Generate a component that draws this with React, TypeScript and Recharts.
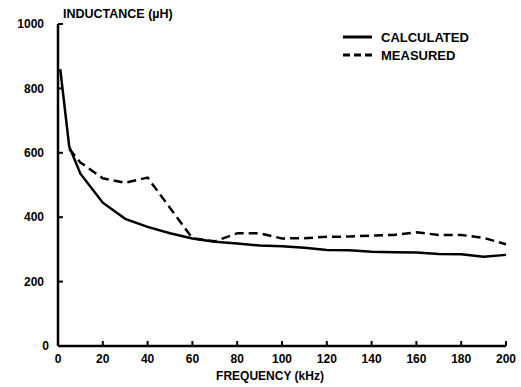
import { Line, LineChart, XAxis, YAxis } from "recharts";

const FONT = "'Liberation Sans', Arial, sans-serif";

// calculated inductance (µH) vs frequency (kHz)
const calcFreq = [1, 5, 10, 20, 30, 40, 50, 60, 70, 80, 90, 100, 110, 120, 130, 140, 150, 160, 170, 180, 190, 200];
const calcValues = [860, 620, 535, 445, 395, 370, 350, 334, 324, 318, 312, 310, 305, 298, 297, 293, 291, 290, 286, 285, 277, 283];

// measured inductance (µH) vs frequency (kHz)
const measFreq = [5, 10, 20, 30, 40, 60, 70, 80, 90, 100, 110, 120, 130, 140, 150, 160, 170, 180, 190, 200];
const measValues = [612, 570, 521, 507, 523, 335, 325, 350, 350, 334, 335, 339, 340, 343, 345, 353, 345, 345, 336, 316];

const xTicks = [0, 20, 40, 60, 80, 100, 120, 140, 160, 180, 200];
const yTicks = [0, 200, 400, 600, 800, 1000];

const calculated = calcFreq.map((f, i) => ({ freq: f, value: calcValues[i] }));
const measured = measFreq.map((f, i) => ({ freq: f, value: measValues[i] }));

const textStyle = { fontFamily: FONT, fontWeight: "bold", fontSize: 12 };

// x tick: label below the axis, short mark pointing up into the plot
function XTick({ x, y, payload }: any) {
    return (
        <g>
            <path d={`M${x},${y - 8}V${y - 13}`} stroke="#000" strokeWidth={2} />
            <text x={x} y={y} dy="0.71em" textAnchor="middle" fill="#000" style={textStyle}>
                {payload.value}
            </text>
        </g>
    );
}

// y tick: label left of the axis, short mark pointing right into the plot
function YTick({ x, y, payload }: any) {
    return (
        <g>
            <path d={`M${x + 14},${y}H${x + 19}`} stroke="#000" strokeWidth={2} />
            <text x={payload.value === 0 ? x + 5 : x} y={y} dy="0.355em" textAnchor="end" fill="#000" style={textStyle}>
                {payload.value}
            </text>
        </g>
    );
}

function LegendBox() {
    const row = (label: string, dash?: string) => (
        <div style={{ display: "flex", alignItems: "center", height: 18 }}>
            <svg width={38} height={10}>
                <line x1={0} y1={5} x2={29} y2={5} stroke="#000" strokeWidth={3} strokeDasharray={dash} />
            </svg>
            <span style={{ fontFamily: FONT, fontWeight: "bold", fontSize: 13, color: "#000" }}>{label}</span>
        </div>
    );
    return (
        <div style={{ position: "absolute", left: 343, top: 28 }}>
            {row("CALCULATED")}
            {row("MEASURED", "7 4")}
        </div>
    );
}

export default function App() {
    return (
        <div style={{ position: "absolute", left: 0, top: 0, width: 521, height: 387, background: "#fff" }}>
            <LineChart width={521} height={387} margin={{ top: 24, right: 15, bottom: 0, left: 0 }}>
                <XAxis
                    type="number"
                    dataKey="freq"
                    domain={[0, 200]}
                    ticks={xTicks}
                    height={41}
                    stroke="#000"
                    strokeWidth={2.5}
                    tickLine={false}
                    tickSize={0}
                    tickMargin={8}
                    tick={<XTick />}
                    label={({ viewBox }: any) => (
                        <text x={viewBox.x + viewBox.width / 2 - 12} y={380} textAnchor="middle" fill="#000" style={textStyle}>
                            FREQUENCY (kHz)
                        </text>
                    )}
                />
                <YAxis
                    type="number"
                    domain={[0, 1000]}
                    ticks={yTicks}
                    width={58}
                    stroke="#000"
                    strokeWidth={2.5}
                    tickLine={false}
                    tickSize={0}
                    tickMargin={14}
                    tick={<YTick />}
                    label={({ viewBox }: any) => (
                        <text x={viewBox.x + viewBox.width + 5} y={viewBox.y - 6} fill="#000"
                            style={{ ...textStyle, fontSize: 12.5 }}>
                            INDUCTANCE (µH)
                        </text>
                    )}
                />
                <Line
                    data={calculated}
                    dataKey="value"
                    name="CALCULATED"
                    stroke="#000"
                    strokeWidth={2.5}
                    dot={false}
                    isAnimationActive={false}
                />
                <Line
                    data={measured}
                    dataKey="value"
                    name="MEASURED"
                    stroke="#000"
                    strokeWidth={2.5}
                    strokeDasharray="9 5"
                    dot={false}
                    isAnimationActive={false}
                />
            </LineChart>
            <LegendBox />
        </div>
    );
}
